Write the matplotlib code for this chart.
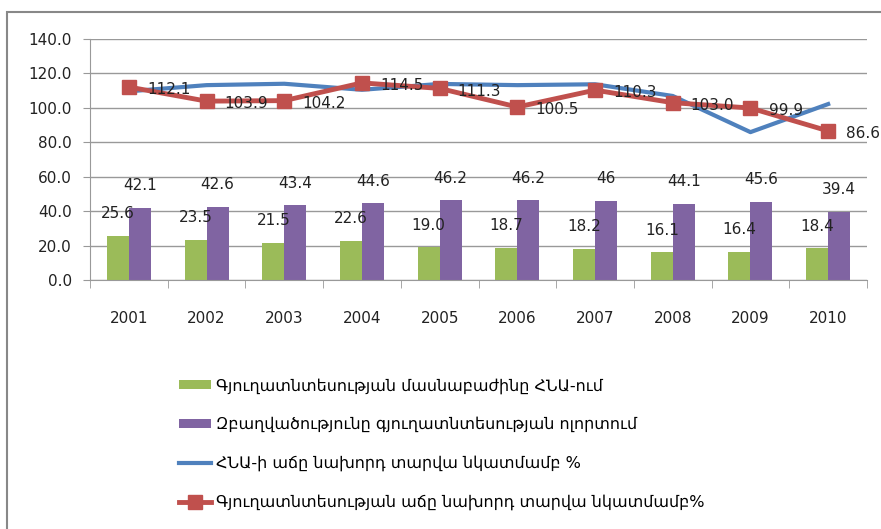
import numpy as np
import matplotlib.pyplot as plt
from matplotlib.patches import Rectangle

years = ['2001', '2002', '2003', '2004', '2005', '2006', '2007', '2008', '2009', '2010']
agri_share = [25.6, 23.5, 21.5, 22.6, 19.0, 18.7, 18.2, 16.1, 16.4, 18.4]
agri_share_lbl = ['25.6', '23.5', '21.5', '22.6', '19.0', '18.7', '18.2', '16.1', '16.4', '18.4']
employment = [42.1, 42.6, 43.4, 44.6, 46.2, 46.2, 46.0, 44.1, 45.6, 39.4]
employment_lbl = ['42.1', '42.6', '43.4', '44.6', '46.2', '46.2', '46', '44.1', '45.6', '39.4']
gdp_growth = [109.6, 113.2, 114.0, 110.5, 113.9, 113.2, 113.7, 106.9, 85.9, 102.2]
agri_growth = [112.1, 103.9, 104.2, 114.5, 111.3, 100.5, 110.3, 103.0, 99.9, 86.6]

names = ['Գյուղատնտեսության մասնաբաժինը ՀՆԱ-ում',
         'Զբաղվածությունը գյուղատնտեսության ոլորտում',
         'ՀՆԱ-ի աճը նախորդ տարվա նկատմամբ %',
         'Գյուղատնտեսության աճը նախորդ տարվա նկատմամբ%']

plt.rcParams['font.family'] = ['DejaVu Sans']

W, H = 881, 529
fig = plt.figure(figsize=(W / 100, H / 100), dpi=100)
ax = fig.add_axes([90 / W, 1 - 280 / H, 777 / W, 241 / H])

# outer frame (top and left edges only visible)
fig.add_artist(Rectangle((7 / W, -0.5), 2, 0.5 + (H - 12) / H, transform=fig.transFigure,
                         fill=False, edgecolor='#888888', lw=1.5))

x = np.arange(len(years))
bw = 0.283
b1 = ax.bar(x - bw / 2, agri_share, bw, color='#9BBB59', label=names[0], zorder=2)
b2 = ax.bar(x + bw / 2, employment, bw, color='#8064A2', label=names[1], zorder=2)
l1, = ax.plot(x, gdp_growth, color='#4F81BD', lw=3, label=names[2], zorder=3)
l2, = ax.plot(x, agri_growth, color='#C0504D', lw=3.5, marker='s', ms=10, label=names[3], zorder=4)

for xi, v, t in zip(x, agri_share, agri_share_lbl):
    ax.annotate(t, (xi - bw / 2, v), xytext=(0, 16), textcoords='offset points',
                ha='center', va='center', fontsize=11, color='#222222', zorder=5)
for xi, v, t in zip(x, employment, employment_lbl):
    ax.annotate(t, (xi + bw / 2, v), xytext=(0, 16), textcoords='offset points',
                ha='center', va='center', fontsize=11, color='#222222', zorder=5)
for xi, v in zip(x, agri_growth):
    ax.annotate(f'{v:.1f}', (xi, v), xytext=(13, -2), textcoords='offset points',
                ha='left', va='center', fontsize=11, color='#222222', zorder=5,
                annotation_clip=False)

ax.set_xlim(-0.5, len(years) - 0.5)
ax.set_ylim(0, 140)
ax.set_yticks(np.arange(0, 141, 20))
ax.set_yticklabels([f'{v:.1f}' for v in np.arange(0, 141, 20)])
ax.set_xticks(x)
ax.set_xticklabels(years)
ax.set_xticks(np.arange(-0.5, len(years), 1), minor=True)
ax.tick_params(axis='x', which='major', length=0, pad=22, labelsize=11, labelcolor='#222222')
ax.tick_params(axis='x', which='minor', length=6, color='#999999', direction='out')
ax.tick_params(axis='y', length=5, color='#999999', pad=8, labelsize=11, labelcolor='#222222')
ax.grid(axis='y', color='#999999', lw=1, zorder=0)
ax.set_axisbelow(True)
for s in ['top', 'right']:
    ax.spines[s].set_visible(False)
for s in ['left', 'bottom']:
    ax.spines[s].set_color('#999999')

fig.legend(handles=[b1, b2, l1, l2], loc='upper left', bbox_to_anchor=(171 / W, 1 - 370 / H),
           frameon=False, fontsize=11.5, handlelength=2.0, handleheight=0.5,
           labelspacing=1.45, handletextpad=0.3, borderpad=0)

fig.savefig('out.png', dpi=100)
